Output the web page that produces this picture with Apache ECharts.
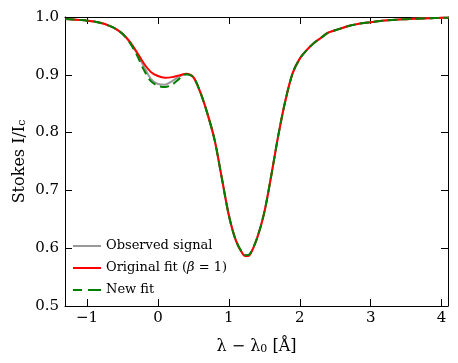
<!DOCTYPE html>
<html lang="en">
<head>
    <meta charset="UTF-8"/>
    <title>Stokes I profile fit</title>
    <script src="https://cdn.jsdelivr.net/npm/echarts@6/dist/echarts.min.js"></script>
    <style>
        html, body { margin: 0; padding: 0; background: #fff; }
        #chart { width: 458px; height: 363px; }
    </style>
</head>
<body>
<div id="chart"></div>
<script type="text/javascript">
    // wavelength offset (A)
    var waveOffset = [-1.3, -1.2, -1.1, -1.0, -0.9, -0.8, -0.7, -0.6, -0.5, -0.4,
        -0.3, -0.2, -0.1, 0.0, 0.1, 0.2, 0.3, 0.4, 0.5, 0.6,
        0.7, 0.8, 0.9, 1.0, 1.1, 1.2, 1.25, 1.3, 1.4, 1.5,
        1.6, 1.7, 1.8, 1.9, 2.0, 2.1, 2.2, 2.3, 2.4, 2.5,
        2.6, 2.7, 2.8, 2.9, 3.0, 3.1, 3.2, 3.3, 3.4, 3.5,
        3.6, 3.7, 3.8, 3.9, 4.0, 4.1];

    var observed = [0.9966, 0.9958, 0.9948, 0.9937, 0.9922, 0.9895, 0.9855, 0.980, 0.971, 0.957,
        0.938, 0.915, 0.893, 0.884, 0.883, 0.889, 0.897, 0.901, 0.895, 0.869,
        0.832, 0.787, 0.722, 0.657, 0.613, 0.590, 0.587, 0.590, 0.618, 0.662,
        0.727, 0.797, 0.857, 0.903, 0.928, 0.943, 0.955, 0.964, 0.973, 0.977,
        0.981, 0.985, 0.9875, 0.9895, 0.991, 0.9925, 0.9938, 0.9948, 0.9956, 0.9963,
        0.9969, 0.9974, 0.9978, 0.9982, 0.9985, 0.9987];

    var originalFit = [0.9966, 0.9958, 0.9948, 0.9937, 0.9922, 0.9895, 0.9855, 0.980, 0.971, 0.958,
        0.940, 0.920, 0.905, 0.898, 0.895, 0.896, 0.899, 0.902, 0.896, 0.869,
        0.832, 0.787, 0.722, 0.657, 0.613, 0.589, 0.586, 0.589, 0.618, 0.662,
        0.727, 0.797, 0.857, 0.903, 0.928, 0.943, 0.955, 0.964, 0.973, 0.977,
        0.981, 0.985, 0.9875, 0.9895, 0.991, 0.9925, 0.9938, 0.9948, 0.9956, 0.9963,
        0.9969, 0.9974, 0.9978, 0.9982, 0.9985, 0.9987];

    var newFit = [0.9966, 0.9958, 0.9948, 0.9937, 0.9922, 0.9895, 0.9855, 0.980, 0.971, 0.956,
        0.935, 0.909, 0.889, 0.881, 0.879, 0.883, 0.893, 0.901, 0.896, 0.869,
        0.832, 0.787, 0.722, 0.657, 0.613, 0.591, 0.588, 0.591, 0.618, 0.662,
        0.727, 0.797, 0.857, 0.903, 0.928, 0.943, 0.955, 0.964, 0.973, 0.977,
        0.981, 0.985, 0.9875, 0.9895, 0.991, 0.9925, 0.9938, 0.9948, 0.9956, 0.9963,
        0.9969, 0.9974, 0.9978, 0.9982, 0.9985, 0.9987];

    var xTicks = [-1, 0, 1, 2, 3, 4];

    function pairs(ys) {
        return waveOffset.map(function (x, i) { return [x, ys[i]]; });
    }

    var font = 'DejaVu Serif';
    var tickInside = {show: true, inside: true, length: 7, lineStyle: {color: '#000', width: 1}};
    var dash = [9, 5];

    var myChart = echarts.init(document.getElementById('chart'), null, {renderer: 'canvas'});
    var option = {
        backgroundColor: '#fff',
        animation: false,
        grid: {left: 65, right: 10, top: 17, bottom: 57, outerBoundsMode: 'none'},
        legend: {
            orient: 'vertical',
            left: 73,
            top: 238,
            padding: 0,
            itemWidth: 28,
            itemHeight: 2,
            itemGap: 6,
            symbolKeepAspect: false,
            textStyle: {
                fontFamily: font, fontSize: 13, color: '#000', lineHeight: 16,
                rich: {i: {fontFamily: font, fontStyle: 'italic', fontSize: 13, lineHeight: 16}}
            },
            formatter: function (name) {
                if (name === 'Original fit') return 'Original fit ({i|β} = 1)';
                return name;
            },
            data: [
                {name: 'Observed signal', icon: 'rect'},
                {name: 'Original fit', icon: 'rect'},
                {name: 'New fit', icon: 'path://M0,0h9v2h-9z M15,0h13v2h-13z'}
            ]
        },
        xAxis: [{
            type: 'value',
            min: -1.31,
            max: 4.09,
            name: '{n|λ − λ}{s|0}{n| [Å]}',
            nameLocation: 'middle',
            nameGap: 32,
            nameTextStyle: {
                color: '#000',
                rich: {
                    n: {fontFamily: font, fontSize: 16, color: '#000'},
                    s: {fontFamily: font, fontSize: 11, color: '#000', padding: [6, 0, 0, 0]}
                }
            },
            axisLine: {show: true, onZero: false, lineStyle: {color: '#000', width: 1}},
            axisTick: Object.assign({customValues: xTicks}, tickInside),
            axisLabel: {
                customValues: xTicks,
                margin: 5,
                fontFamily: font, fontSize: 15, color: '#000',
                formatter: function (v) { return String(v).replace('-', '−'); }
            },
            splitLine: {show: false}
        }, {
            type: 'value',
            position: 'top',
            min: -1.31,
            max: 4.09,
            axisLine: {show: true, onZero: false, lineStyle: {color: '#000', width: 1}},
            axisTick: Object.assign({customValues: xTicks}, tickInside),
            axisLabel: {show: false},
            splitLine: {show: false}
        }],
        yAxis: [{
            type: 'value',
            min: 0.5,
            max: 1.0,
            interval: 0.1,
            name: '{n|Stokes I/I}{s|c}',
            nameLocation: 'middle',
            nameGap: 37,
            nameMoveOverlap: false,
            nameTextStyle: {
                color: '#000',
                rich: {
                    n: {fontFamily: font, fontSize: 16, color: '#000'},
                    s: {fontFamily: font, fontSize: 11, color: '#000', padding: [6, 0, 0, 0]}
                }
            },
            axisLine: {show: true, onZero: false, lineStyle: {color: '#000', width: 1}},
            axisTick: tickInside,
            axisLabel: {
                margin: 6,
                fontFamily: font, fontSize: 15, color: '#000',
                formatter: function (v) { return v.toFixed(1); }
            },
            splitLine: {show: false}
        }, {
            type: 'value',
            position: 'right',
            min: 0.5,
            max: 1.0,
            interval: 0.1,
            axisLine: {show: true, onZero: false, lineStyle: {color: '#000', width: 1}},
            axisTick: tickInside,
            axisLabel: {show: false},
            splitLine: {show: false}
        }],
        series: [
            {
                name: 'Observed signal',
                type: 'line',
                data: pairs(observed),
                symbol: 'none',
                smooth: 0.3,
                color: '#999999',
                lineStyle: {color: '#999999', width: 2}
            },
            {
                name: 'Original fit',
                type: 'line',
                data: pairs(originalFit),
                symbol: 'none',
                smooth: 0.3,
                color: '#ff0000',
                lineStyle: {color: '#ff0000', width: 2}
            },
            {
                name: 'New fit',
                type: 'line',
                data: pairs(newFit),
                symbol: 'none',
                smooth: 0.3,
                color: '#008000',
                lineStyle: {color: '#008000', width: 2, type: dash}
            }
        ]
    };
    myChart.setOption(option);
</script>
</body>
</html>
